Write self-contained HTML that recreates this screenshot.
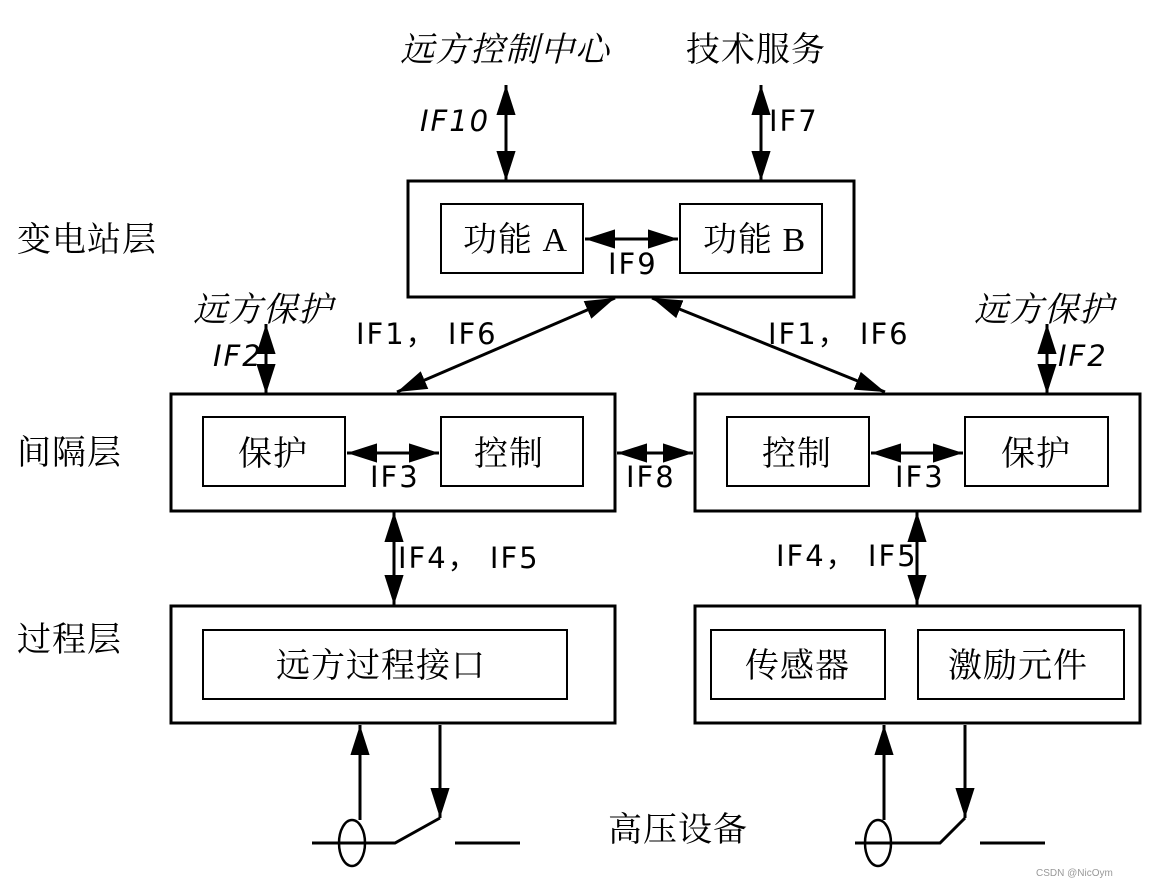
<!DOCTYPE html>
<html><head><meta charset="utf-8"><style>
body{margin:0;background:#fff;}
svg text{font-family:"Liberation Serif","Noto Serif CJK SC",serif;fill:#000;}
.l{font-family:"DejaVu Sans","Liberation Sans",sans-serif !important;font-size:29px;letter-spacing:2px;}
</style></head><body>
<svg width="1149" height="888" viewBox="0 0 1149 888" xmlns="http://www.w3.org/2000/svg">
<defs>
<marker id="b" viewBox="0 0 10 10" refX="10" refY="5" markerWidth="30" markerHeight="30" markerUnits="userSpaceOnUse" orient="auto-start-reverse"><path d="M0,1.8L10,5L0,8.2z" fill="#000"/></marker>
</defs>
<g fill="none" stroke="#000">
<rect x="408" y="181" width="446" height="116" stroke-width="3"/>
<rect x="441" y="204" width="142" height="69" stroke-width="2"/>
<rect x="680" y="204" width="142" height="69" stroke-width="2"/>
<rect x="171" y="394" width="444" height="117" stroke-width="3"/>
<rect x="203" y="417" width="142" height="69" stroke-width="2"/>
<rect x="441" y="417" width="142" height="69" stroke-width="2"/>
<rect x="695" y="394" width="445" height="117" stroke-width="3"/>
<rect x="727" y="417" width="142" height="69" stroke-width="2"/>
<rect x="965" y="417" width="143" height="69" stroke-width="2"/>
<rect x="171" y="606" width="444" height="117" stroke-width="3"/>
<rect x="203" y="630" width="364" height="69" stroke-width="2"/>
<rect x="695" y="606" width="445" height="117" stroke-width="3"/>
<rect x="711" y="630" width="174" height="69" stroke-width="2"/>
<rect x="918" y="630" width="206" height="69" stroke-width="2"/>
<g stroke-width="3">
<line x1="506" y1="85" x2="506" y2="181" marker-start="url(#b)" marker-end="url(#b)"/>
<line x1="761" y1="85" x2="761" y2="181" marker-start="url(#b)" marker-end="url(#b)"/>
<line x1="585" y1="239" x2="678" y2="239" marker-start="url(#b)" marker-end="url(#b)"/>
<line x1="266" y1="324" x2="266" y2="394" marker-start="url(#b)" marker-end="url(#b)"/>
<line x1="1047" y1="324" x2="1047" y2="394" marker-start="url(#b)" marker-end="url(#b)"/>
<line x1="397" y1="392" x2="615" y2="298" marker-start="url(#b)" marker-end="url(#b)"/>
<line x1="652" y1="298" x2="885" y2="392" marker-start="url(#b)" marker-end="url(#b)"/>
<line x1="347" y1="453" x2="439" y2="453" marker-start="url(#b)" marker-end="url(#b)"/>
<line x1="871" y1="453" x2="963" y2="453" marker-start="url(#b)" marker-end="url(#b)"/>
<line x1="617" y1="453" x2="693" y2="453" marker-start="url(#b)" marker-end="url(#b)"/>
<line x1="394" y1="512" x2="394" y2="605" marker-start="url(#b)" marker-end="url(#b)"/>
<line x1="917" y1="512" x2="917" y2="605" marker-start="url(#b)" marker-end="url(#b)"/>
<line x1="360" y1="820" x2="360" y2="725" marker-end="url(#b)"/>
<line x1="440" y1="725" x2="440" y2="818" marker-end="url(#b)"/>
<line x1="884" y1="820" x2="884" y2="725" marker-end="url(#b)"/>
<line x1="965" y1="725" x2="965" y2="818" marker-end="url(#b)"/>
<polyline points="312,843 395,843 440,818"/>
<line x1="455" y1="843" x2="520" y2="843"/>
<polyline points="855,843 940,843 965,818"/>
<line x1="980" y1="843" x2="1045" y2="843"/>
</g>
<ellipse cx="352" cy="843" rx="13" ry="23" stroke-width="2.5"/>
<ellipse cx="878" cy="843" rx="13" ry="23" stroke-width="2.5"/>
</g>
<g font-size="34" letter-spacing="1">
<text x="400" y="61" font-style="italic">远方控制中心</text>
<text x="686" y="61">技术服务</text>
<text x="17" y="251">变电站层</text>
<text x="17" y="464">间隔层</text>
<text x="17" y="651">过程层</text>
<text x="463" y="251">功能 A</text>
<text x="703" y="251">功能 B</text>
<text x="193" y="321" font-style="italic">远方保护</text>
<text x="974" y="321" font-style="italic">远方保护</text>
<text x="238" y="465">保护</text>
<text x="474" y="465">控制</text>
<text x="762" y="465">控制</text>
<text x="1001" y="465">保护</text>
<text x="276" y="677">远方过程接口</text>
<text x="745" y="677">传感器</text>
<text x="948" y="677">激励元件</text>
<text x="608" y="841">高压设备</text>
</g>
<g>
<text class="l" x="420" y="131" font-style="italic">IF10</text>
<text class="l" x="769" y="131">IF7</text>
<text class="l" x="608" y="274">IF9</text>
<text class="l" x="213" y="366" font-style="italic">IF2</text>
<text class="l" x="1058" y="366" font-style="italic">IF2</text>
<text class="l" x="356" y="344">IF1， IF6</text>
<text class="l" x="768" y="344">IF1， IF6</text>
<text class="l" x="370" y="487">IF3</text>
<text class="l" x="895" y="487">IF3</text>
<text class="l" x="626" y="487">IF8</text>
<text class="l" x="398" y="568">IF4， IF5</text>
<text class="l" x="776" y="566">IF4， IF5</text>
</g>
<text x="1036" y="876" font-size="10" style="font-family:'Liberation Sans',sans-serif;fill:#999">CSDN @NicOym</text>
</svg>
</body></html>
